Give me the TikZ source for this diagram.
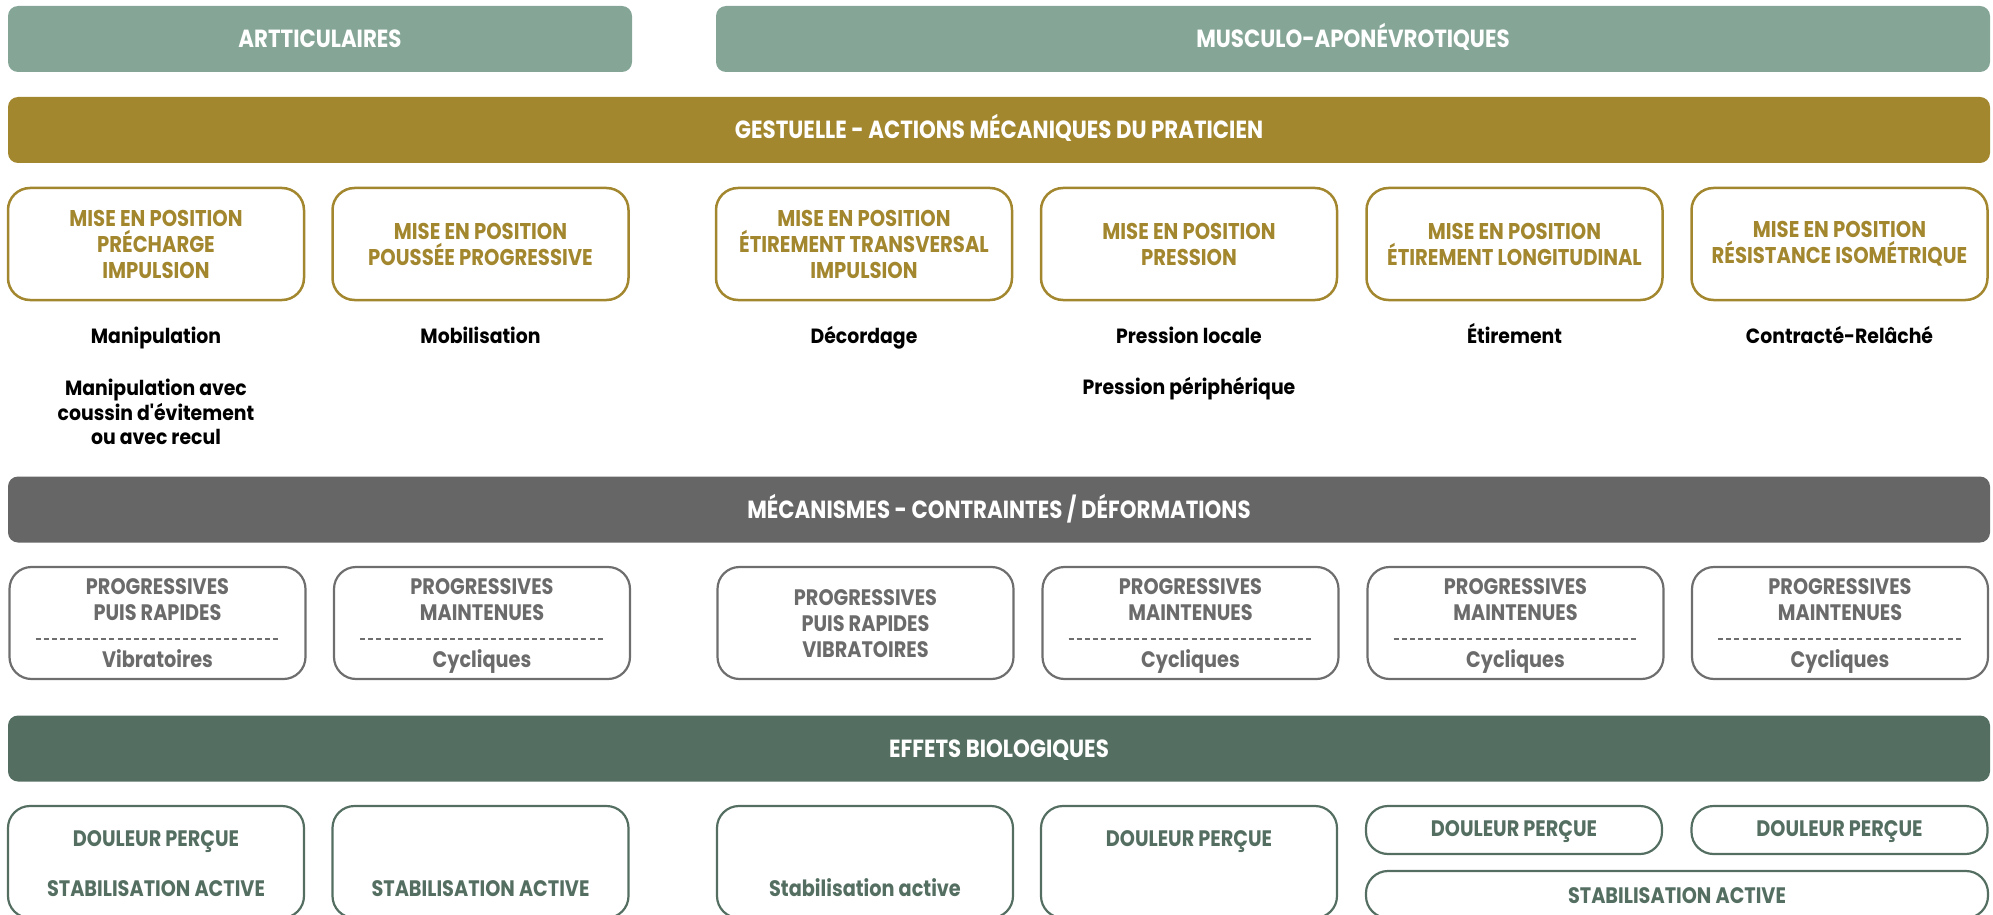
\documentclass[tikz,border=0pt]{standalone}
\usepackage{fontspec}
\setmainfont{Poppins}[FakeStretch=0.86]
\newfontfamily\lowfam{Poppins}[FakeStretch=0.915]
\definecolor{cTeal}{HTML}{85A697}
\definecolor{cGold}{HTML}{A3872F}
\definecolor{cGrayBar}{HTML}{666666}
\definecolor{cGrayLine}{HTML}{6E6E6E}
\definecolor{cGrayText}{HTML}{6B6B6B}
\definecolor{cGreen}{HTML}{546F62}
\tikzset{
  bar/.style={fill=#1, rounded corners=5pt, inner sep=0pt, text=white,
    font=\bfseries\fontsize{12.4}{14}\selectfont, minimum height=33pt,
    text height=8.6pt, text depth=0pt},
  goldbox/.style={draw=cGold, line width=1.25pt, rounded corners=11pt, fill=white,
    minimum width=148pt, minimum height=56pt, inner sep=0pt, align=center,
    text=cGold, font=\bfseries\fontsize{11.4}{13}\selectfont},
  graybox/.style={draw=cGrayLine, line width=1.1pt, rounded corners=11pt,
    minimum width=148pt, minimum height=56pt, inner sep=0pt},
  greenbox/.style={draw=cGreen, line width=1.1pt, rounded corners=11pt,
    minimum width=148pt, inner sep=0pt},
  graytxt/.style={text=cGrayText, font=\bfseries\fontsize{11.2}{13}\selectfont,
    inner sep=0pt, text height=7.85pt, text depth=0pt},
  greentxt/.style={text=cGreen, font=\bfseries\fontsize{11.2}{13}\selectfont,
    inner sep=0pt, text height=7.7pt, text depth=0pt},
  lab/.style={text=black, font=\lowfam\bfseries\fontsize{10.3}{12.25}\selectfont,
    inner sep=0pt, align=center},
  labone/.style={lab, text height=7.2pt, text depth=0pt},
  dashsep/.style={draw=cGrayLine, line width=1pt, dash pattern=on 2.5pt off 1.6pt}
}
\begin{document}
\begin{tikzpicture}[x=0.5pt,y=-0.5pt]
\useasboundingbox (0,0) rectangle (1993,915);
\clip (0,0) rectangle (1993,915);
% top bars
\node[bar=cTeal, minimum width=312pt] (art) at (320,39) {ARTTICULAIRES};
\node[bar=cTeal, minimum width=637pt] (mus) at (1353,39) {MUSCULO-APONÉVROTIQUES};
\node[bar=cGold, minimum width=991pt] (gest) at (999,130) {GESTUELLE - ACTIONS MÉCANIQUES DU PRATICIEN};
% gold boxes
\node[goldbox] (g1) at (156,244) {MISE EN POSITION\\PRÉCHARGE\\IMPULSION};
\node[goldbox] (g2) at (480.5,244) {MISE EN POSITION\\POUSSÉE PROGRESSIVE};
\node[goldbox] (g3) at (864,244) {MISE EN POSITION\\ÉTIREMENT TRANSVERSAL\\IMPULSION};
\node[goldbox] (g4) at (1189,244) {MISE EN POSITION\\PRESSION};
\node[goldbox] (g5) at (1514.5,244) {MISE EN POSITION\\ÉTIREMENT LONGITUDINAL};
\node[goldbox] (g6) at (1839.5,244) {MISE EN POSITION\\RÉSISTANCE ISOMÉTRIQUE};
% labels
\node[labone] (l1) at (156,336) {Manipulation};
\node[labone] (l2) at (480.5,336) {Mobilisation};
\node[labone] (l3) at (864,336) {Décordage};
\node[labone] (l4) at (1189,336) {Pression locale};
\node[labone] (l5) at (1514.5,336) {Étirement};
\node[labone] (l6) at (1839.5,336) {Contracté-Relâché};
\node[lab] (l1b) at (156,412) {Manipulation avec\\coussin d'évitement\\ou avec recul};
\node[labone] (l4b) at (1189,387) {Pression périphérique};
% mecanismes
\node[bar=cGrayBar, minimum width=991pt] (mec) at (999,509.5) {MÉCANISMES - CONTRAINTES / DÉFORMATIONS};
\foreach \n/\x in {m1/157.5,m2/482,m3/865.5,m4/1190.5,m5/1515.5,m6/1840}{
  \node[graybox] (\n) at (\x,623) {};
}
\foreach \n/\x/\a/\b/\c in {m1/157.5/PUIS RAPIDES/Vibratoires/a, m2/482/MAINTENUES/Cycliques/b,
   m4/1190.5/MAINTENUES/Cycliques/d, m5/1515.5/MAINTENUES/Cycliques/e, m6/1840/MAINTENUES/Cycliques/f}{
  \node[graytxt] (t\c1) at (\x,587) {PROGRESSIVES};
  \node[graytxt] (t\c2) at (\x,613) {\a};
  \coordinate (s\c l) at (\x-122,639);
  \coordinate (s\c r) at (\x+122,639);
  \draw[dashsep] (s\c l) -- (s\c r);
  \node[graytxt] (t\c3) at (\x,660) {\b};
}
\node[graytxt] (tc1) at (865.5,598) {PROGRESSIVES};
\node[graytxt] (tc2) at (865.5,624) {PUIS RAPIDES};
\node[graytxt] (tc3) at (865.5,649.5) {VIBRATOIRES};
% effets
\node[bar=cGreen, minimum width=991pt] (eff) at (999,748.5) {EFFETS BIOLOGIQUES};
\node[greenbox, minimum height=56pt] (e1) at (156,862) {};
\node[greenbox, minimum height=56pt] (e2) at (480.5,862) {};
\node[greenbox, minimum height=56pt] (e3) at (865,862) {};
\node[greenbox, minimum height=56pt] (e4) at (1189,862) {};
\node[greenbox, minimum height=24pt] (e5) at (1514,830) {};
\node[greenbox, minimum height=24pt] (e6) at (1839.5,830) {};
\node[greenbox, minimum height=23.5pt, minimum width=311pt] (e7) at (1677,894.5) {};
\node[greentxt] (d1) at (156,838.5) {DOULEUR PERÇUE};
\node[greentxt] (s1) at (156,889) {STABILISATION ACTIVE};
\node[greentxt] (s2) at (480.5,889) {STABILISATION ACTIVE};
\node[greentxt] (s3) at (865,889) {Stabilisation active};
\node[greentxt] (d4) at (1189,838.5) {DOULEUR PERÇUE};
\node[greentxt] (d5) at (1514,829) {DOULEUR PERÇUE};
\node[greentxt] (d6) at (1839.5,829) {DOULEUR PERÇUE};
\node[greentxt] (s7) at (1677,895.5) {STABILISATION ACTIVE};
\end{tikzpicture}
\end{document}
